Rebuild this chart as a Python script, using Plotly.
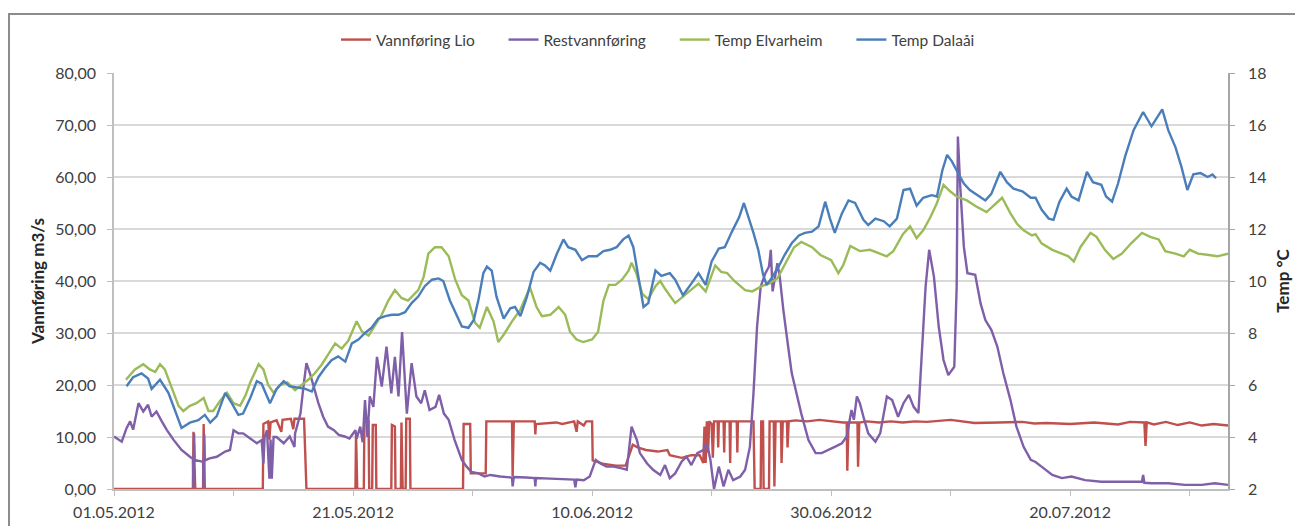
import plotly.graph_objects as go
import pandas as pd

START = pd.Timestamp("2012-05-01")

# ---- data (day offset from 01.05.2012, value) ----
lio_day = [0, 6.6, 6.65, 6.75, 6.8, 7.45, 7.5, 7.6, 12.45, 12.5, 12.9, 13.0, 13.1, 13.6, 14.0, 14.1, 14.8, 15.0, 15.1, 15.9, 16.1,
           20.2, 20.25, 20.35, 20.9, 20.95, 21.3, 21.35, 21.6, 21.65, 21.9, 21.95, 23.2, 23.25, 23.5, 23.55, 24.0, 24.05, 24.15,
           24.4, 24.45, 24.75, 24.8, 29.2, 29.25, 29.8, 29.85, 31.1, 31.15, 33.3, 33.35, 33.45, 35.2, 35.25, 35.3, 37.0, 37.5,
           38.5, 38.7, 38.8, 39.3, 39.5, 40.0, 40.05, 41.0, 42.0, 42.8, 43.4, 43.8, 44.5, 45.5, 46.3, 46.5, 47.5, 48.3, 49.0,
           49.3, 49.4, 49.5, 49.6, 49.7, 49.8, 50.0, 50.1, 50.2, 50.5, 50.55, 50.6, 51.0, 51.05, 51.1, 51.5, 51.55, 51.6, 52.1,
           52.15, 52.2, 52.8, 53.5, 53.6, 54.1, 54.15, 54.3, 54.35, 54.8, 54.85, 55.2, 55.25, 55.35, 55.8, 55.85, 55.95, 56.3,
           56.35, 56.45, 57, 58, 59, 60, 61.0, 61.3, 61.35, 61.45, 62.2, 62.25, 62.35, 63, 64, 65, 66, 67, 68, 70, 72, 74, 76,
           77, 78, 80, 82, 84, 85, 86.2, 86.3, 86.4, 87, 88, 89, 90, 91, 92, 93.2]
lio_val = [0, 0, 11, 0.5, 0, 0, 12.5, 0, 0, 12.5, 13, 9.5, 12.8, 13.2, 11, 13.3, 13.5, 11.5, 13.5, 13.5, 0,
           0, 10.7, 0, 0, 13, 13, 0, 0, 12.3, 12.3, 0, 0, 12.3, 12, 0, 0, 12.8, 0,
           0, 13.5, 13.5, 0, 0, 12.5, 12.5, 3, 3, 13, 13, 2.5, 13, 13, 10.5, 12.5, 12.8, 12.5,
           13, 11, 13, 12.2, 13, 13, 5.5, 4.8, 4.5, 4.5, 8.5, 8, 7.5, 7.2, 7.5, 6.5, 6.0, 6.5, 6.5,
           5, 12, 5, 13, 7, 13, 12.5, 6, 13, 13, 8, 13, 13, 7, 13, 13, 5, 13, 13,
           7, 13, 13, 13, 0, 0, 13, 13, 0, 0, 13, 13, 0.5, 13, 13, 5, 13, 13,
           8, 13, 13.2, 13, 13.3, 13, 12.8, 12.8, 3.5, 12.8, 12.8, 4.3, 12.8, 13, 12.8, 13, 12.8, 13, 12.9, 13.3, 12.7, 12.8, 12.9,
           12.6, 12.7, 12.5, 12.8, 12.4, 12.9, 12.8, 8.3, 12.8, 12.4, 12.9, 12.3, 12.8, 12.2, 12.5, 12.2]

rest_day = [0, 0.3, 0.65, 1.05, 1.35, 1.6, 2.05, 2.45, 2.85, 3.15, 3.55, 4.0, 4.4, 5.0, 5.65, 6.35, 6.6, 6.65, 6.7, 6.75,
            7.45, 7.5, 7.55, 7.6, 8.0, 8.6, 9.3, 9.7, 10.0, 10.4, 10.8, 11.4, 11.95, 12.35, 12.5, 12.6, 12.8, 13.0, 13.1,
            13.2, 13.35, 13.6, 14.2, 14.7, 15.1, 15.15, 15.6, 15.85, 16.1, 16.4, 16.7, 17.1, 17.5, 17.9, 18.4, 18.8, 19.3,
            19.7, 20.2, 20.3, 20.6, 20.8, 21.0, 21.2, 21.4, 21.7, 22.0, 22.4, 22.8, 23.2, 23.5, 23.8, 24.1, 24.5, 24.9, 25.3,
            25.7, 26.0, 26.4, 26.9, 27.2, 27.6, 28.0, 28.5, 29.1, 29.5, 29.9, 30.5, 31.0, 31.5, 32.3, 33.3, 33.35, 33.45,
            34.5, 35.2, 35.25, 35.3, 36.5, 37.5, 38.5, 38.6, 38.7, 39.3, 39.8, 40.3, 40.7, 41.2, 41.8, 42.4, 42.9, 43.3,
            43.75, 44.0, 44.6, 45.1, 45.7, 46.1, 46.5, 46.95, 47.5, 47.9, 48.3, 48.8, 49.3, 49.6, 49.9, 50.2, 50.6, 51.0,
            51.4, 51.8, 52.4, 52.8, 53.2, 53.5, 53.8, 54.1, 54.5, 54.8, 54.95, 55.1, 55.5, 55.7, 56.0, 56.4, 56.7, 57.1,
            57.5, 58.1, 58.7, 59.2, 59.8, 60.3, 60.9, 61.3, 61.7, 61.9, 62.15, 62.4, 62.7, 63.1, 63.7, 64.1, 64.66, 65.1,
            65.6, 66.05, 66.5, 66.9, 67.3, 67.6, 67.9, 68.2, 68.6, 69.0, 69.4, 69.8, 70.3, 70.5, 70.6, 70.8, 71.1, 71.4,
            72.05, 72.5, 72.9, 73.4, 73.9, 74.4, 75.0, 75.5, 76.1, 76.7, 77.1, 77.6, 78.5, 79.3, 80.1, 81.25, 82.6, 84.0,
            86.0, 86.1, 86.2, 86.8, 88.2, 89.6, 91.0, 92.1, 93.2]
rest_val = [10.1, 9.7, 9.1, 11.7, 13, 11.4, 16.5, 14.9, 16.2, 13.9, 14.9, 13, 11.4, 9.4, 7.5, 6.2, 5.8, 0.3, 10.7, 5.6,
            5.2, 0.3, 10.5, 5.5, 5.9, 6.2, 7.2, 7.5, 11.3, 10.7, 10.7, 9.7, 8.8, 9.4, 4.9, 10, 11.3, 2.0, 9.5,
            2.0, 10, 10, 8.8, 10.1, 8.1, 10.7, 14.5, 19.7, 24.2, 22.2, 19.7, 16.5, 13.9, 12, 11.3, 10.4, 10.1,
            9.7, 11.3, 9.7, 12, 9, 17.1, 10, 17.8, 15.8, 25.4, 19.7, 27.4, 18.4, 25.4, 17.8, 30.2, 14.5, 24.2, 17.8,
            16.5, 19, 15.2, 15.8, 18.1, 14.5, 13.3, 9.4, 5.6, 4.3, 3.3, 3.0, 2.4, 2.7, 2.4, 2.2, 0.5, 2.3,
            2.2, 2.1, 0.5, 2.1, 2.0, 1.9, 1.8, 0.3, 1.8, 1.7, 2.4, 5.6, 4.9, 4.3, 4.3, 4.0, 3.7, 12,
            9.4, 6.9, 4.9, 3.7, 2.7, 4.6, 2.1, 3.0, 5.3, 6.2, 4.6, 6.9, 7.5, 8.8, 5.6, 0, 4.3, 0.5,
            3.7, 1.7, 2.4, 3.7, 8.1, 18.4, 31.2, 38.9, 41.5, 42.8, 46, 38, 43.4, 40.8, 34.4, 27.4, 22.3, 18.4,
            14.5, 9.4, 6.9, 6.9, 7.5, 8.1, 8.8, 10.1, 15.2, 13.3, 17.8, 16.5, 13.9, 10.7, 9.1, 10.7, 17.8, 17.1,
            13.9, 16.5, 18.1, 15.8, 14.6, 26.1, 38.9, 46, 40.8, 31.2, 24.8, 21.9, 23.5, 38.9, 67.8, 58.1, 46.6, 41.5,
            41.2, 35.7, 32.5, 30.6, 27.4, 22.3, 17.1, 12, 8.1, 5.6, 5.2, 4.3, 2.7, 2.1, 2.4, 1.7, 1.4, 1.4,
            1.4, 2.7, 1.2, 1.1, 1.1, 0.8, 0.8, 1.1, 0.8]

elv_day = [1.0, 1.75, 2.45, 3.0, 3.45, 3.85, 4.25, 4.85, 5.4, 5.8, 6.35, 6.9, 7.5, 7.9, 8.3, 8.9, 9.45, 10.0, 10.55, 11.0,
           11.4, 12.1, 12.5, 12.9, 13.35, 13.9, 14.5, 15.15, 16.25, 16.8, 17.4, 17.95, 18.5, 19.05, 19.6, 20.3, 20.75,
           21.3, 21.85, 22.4, 22.95, 23.5, 24.05, 24.6, 25.45, 25.9, 26.3, 26.85, 27.4, 28.0, 28.55, 29.1, 29.65, 30.2,
           30.6, 31.2, 31.75, 32.15, 32.7, 33.3, 34.0, 34.8, 35.35, 35.8, 36.5, 37.2, 37.75, 38.15, 38.7, 39.25, 40.0,
           40.5, 40.95, 41.4, 41.95, 42.5, 43.05, 43.3, 43.7, 44.2, 44.7, 45.3, 45.7, 46.1, 46.95, 47.6, 48.3, 48.9, 49.5,
           50.3, 50.8, 51.3, 51.9, 52.8, 53.4, 54.2, 54.8, 55.5, 56.2, 56.9, 57.5, 58.4, 59.1, 60.0, 60.6, 61.0, 61.6,
           62.4, 63.25, 64.1, 64.65, 65.2, 66.0, 66.6, 67.15, 67.7, 68.3, 68.85, 69.4, 69.95, 70.5, 71.35, 72.2, 73.0,
           73.85, 74.3, 75.0, 75.55, 76.1, 76.8, 77.1, 77.6, 78.5, 79.3, 79.85, 80.3, 80.85, 81.7, 82.2, 82.9, 83.6, 84.3,
           85.1, 86.0, 86.7, 87.4, 87.95, 88.8, 89.5, 90.0, 90.7, 91.6, 92.3, 93.2]
elv_val = [6.2, 6.6, 6.8, 6.6, 6.5, 6.8, 6.6, 5.9, 5.2, 5.0, 5.2, 5.3, 5.5, 5.0, 5.0, 5.4, 5.7, 5.3, 5.2, 5.6,
           6.1, 6.8, 6.6, 6.0, 5.7, 6.0, 6.1, 5.8, 6.2, 6.45, 6.8, 7.2, 7.6, 7.4, 7.7, 8.45, 8.05,
           7.9, 8.3, 8.7, 9.25, 9.65, 9.35, 9.25, 9.65, 10.15, 11.05, 11.3, 11.3, 10.95, 10.05, 9.45, 9.25, 8.4,
           8.2, 9.0, 8.45, 7.65, 8.0, 8.45, 8.9, 9.75, 9.0, 8.65, 8.7, 9.0, 8.7, 8.05, 7.75, 7.65, 7.75,
           8.05, 9.25, 9.85, 9.85, 10.05, 10.4, 10.7, 10.3, 9.5, 9.3, 9.8, 10.0, 9.7, 9.15, 9.4, 9.7, 9.9, 9.6,
           10.6, 10.35, 10.3, 10.0, 9.65, 9.6, 9.8, 9.9, 10.1, 10.7, 11.3, 11.5, 11.3, 11.0, 10.8, 10.3, 10.6, 11.35,
           11.15, 11.2, 11.05, 10.95, 11.15, 11.8, 12.1, 11.65, 11.95, 12.45, 13.0, 13.7, 13.45, 13.25, 13.1, 12.85, 12.65,
           13.0, 13.2, 12.6, 12.2, 11.95, 11.75, 11.8, 11.45, 11.2, 11.05, 10.95, 10.75, 11.3, 11.85, 11.7, 11.2, 10.85, 11.05,
           11.45, 11.85, 11.7, 11.6, 11.15, 11.05, 10.95, 11.2, 11.05, 11.0, 10.95, 11.05]

dal_day = [1.05, 1.6, 2.3, 2.85, 3.15, 3.85, 4.55, 5.1, 5.65, 6.35, 7.05, 7.6, 8.05, 8.6, 9.3, 9.85, 10.4, 10.8, 11.4, 11.95,
           12.35, 13.05, 13.6, 14.2, 14.7, 15.4, 16.0, 16.55, 17.1, 17.65, 18.2, 18.75, 19.35, 19.9, 20.45, 21.0, 21.55,
           22.1, 22.7, 23.25, 23.8, 24.35, 24.9, 25.45, 26.0, 26.6, 27.15, 27.55, 28.1, 28.7, 29.1, 29.65, 30.1, 30.5,
           30.9, 31.2, 31.6, 32.0, 32.6, 33.15, 33.55, 34.0, 34.55, 35.1, 35.65, 36.05, 36.5, 37.05, 37.6, 38.0, 38.6,
           39.15, 39.7, 40.4, 40.95, 41.5, 42.05, 42.6, 43.05, 43.45, 43.9, 44.3, 44.7, 45.3, 45.8, 46.5, 46.95, 47.6,
           48.3, 48.9, 49.5, 50.0, 50.6, 51.1, 51.7, 52.3, 52.7, 53.1, 53.5, 53.9, 54.3, 54.6, 55.0, 55.6, 56.1, 56.7,
           57.3, 57.8, 58.4, 58.95, 59.5, 59.9, 60.3, 60.9, 61.45, 62.0, 62.7, 63.1, 63.7, 64.4, 64.9, 65.5, 66.05, 66.6,
           67.15, 67.7, 68.4, 68.85, 69.3, 69.7, 70.1, 70.5, 71.1, 71.6, 72.3, 72.9, 73.4, 74.15, 74.7, 75.25, 76.0, 76.7,
           77.1, 77.6, 78.2, 78.6, 79.1, 79.7, 80.1, 80.7, 81.4, 81.9, 82.6, 83.0, 83.5, 84.0, 84.6, 85.3, 86.1, 86.8,
           87.7, 88.2, 88.8, 89.3, 89.8, 90.3, 90.9, 91.5, 91.9, 92.2]
dal_val = [5.95, 6.3, 6.45, 6.25, 5.85, 6.2, 5.7, 5.0, 4.35, 4.55, 4.65, 4.85, 4.55, 4.8, 5.7, 5.3, 4.85, 4.9, 5.5, 6.15,
           6.05, 5.3, 5.85, 6.15, 5.95, 5.9, 5.85, 5.75, 6.3, 6.65, 6.95, 7.1, 6.9, 7.6, 7.75, 8.0, 8.2,
           8.55, 8.65, 8.7, 8.7, 8.8, 9.15, 9.4, 9.8, 10.05, 10.1, 10.0, 9.25, 8.65, 8.25, 8.2, 8.5, 9.3,
           10.3, 10.55, 10.4, 9.4, 8.55, 8.95, 9.0, 8.65, 9.4, 10.35, 10.7, 10.6, 10.4, 11.05, 11.6, 11.3, 11.2,
           10.8, 10.95, 10.95, 11.15, 11.2, 11.3, 11.6, 11.75, 11.3, 10.0, 9.0, 9.15, 10.4, 10.2, 10.3, 10.05, 9.45,
           9.9, 10.3, 9.85, 10.75, 11.25, 11.3, 11.9, 12.45, 13.0, 12.45, 11.85, 11.2, 10.25, 9.85, 10.1, 10.55, 11.0, 11.45,
           11.75, 11.85, 11.9, 12.1, 13.05, 12.4, 11.85, 12.6, 13.1, 13.0, 12.35, 12.15, 12.4, 12.3, 12.1, 12.4, 13.5, 13.55,
           12.9, 13.2, 13.3, 13.25, 14.25, 14.85, 14.6, 14.25, 13.75, 13.5, 13.3, 13.1, 13.35, 14.2, 13.8, 13.55, 13.45, 13.2,
           13.2, 12.75, 12.4, 12.35, 13.05, 13.55, 13.25, 13.1, 14.2, 13.8, 13.7, 13.25, 13.05, 13.75, 14.8, 15.8, 16.5, 15.95,
           16.6, 15.8, 15.15, 14.4, 13.5, 14.1, 14.15, 14.0, 14.1, 13.95]

x_tick_dates = ["2012-05-01", "2012-05-21", "2012-06-10", "2012-06-30", "2012-07-20"]
x_tick_text = ["01.05.2012", "21.05.2012", "10.06.2012", "30.06.2012", "20.07.2012"]
left_ticks = [0, 10, 20, 30, 40, 50, 60, 70, 80]
left_tick_text = ["0,00", "10,00", "20,00", "30,00", "40,00", "50,00", "60,00", "70,00", "80,00"]
right_ticks = [2, 4, 6, 8, 10, 12, 14, 16, 18]


def to_dates(days):
    return [START + pd.Timedelta(days=d) for d in days]


FONT = "Lato"
TXT = "#404040"
# the page body adds an 8px offset; the figure fills the rest of the 1303x526 window
OFF = 8
W, H = 1303 - OFF, 526 - OFF
PL, PR, PT, PB = 114, 1228, 73, 489  # plot area in window pixels
PW, PH = PR - PL, PB - PT
PAD = "\u00a0" * 6  # extra spacing between legend entries

fig = go.Figure()
fig.add_trace(go.Scatter(x=to_dates(lio_day), y=lio_val, name="Vannføring Lio" + PAD, mode="lines",
                         line=dict(color="#C0504D", width=2.4)))
fig.add_trace(go.Scatter(x=to_dates(rest_day), y=rest_val, name="Restvannføring" + PAD, mode="lines",
                         line=dict(color="#7F5FA8", width=2.4)))
fig.add_trace(go.Scatter(x=to_dates(elv_day), y=elv_val, name="Temp Elvarheim" + PAD, mode="lines", yaxis="y2",
                         line=dict(color="#9BBB59", width=2.4)))
fig.add_trace(go.Scatter(x=to_dates(dal_day), y=dal_val, name="Temp Dalaåi", mode="lines", yaxis="y2",
                         line=dict(color="#4A7EBB", width=2.4)))

x_end = START + pd.Timedelta(days=93.2)

fig.update_layout(
    width=W, height=H,
    margin=dict(l=PL - OFF, r=1303 - PR, t=PT - OFF, b=526 - PB, autoexpand=False),
    paper_bgcolor="white", plot_bgcolor="white",
    font=dict(family=FONT, size=16, color=TXT),
    showlegend=True,
    legend=dict(orientation="h", x=(658 - PL) / PW, xanchor="center", y=(PB - 40) / PH, yanchor="middle",
                font=dict(size=15.5, color=TXT), itemwidth=30, tracegroupgap=0),
    xaxis=dict(type="date", range=[START, x_end], tickmode="array",
               tickvals=x_tick_dates, ticktext=x_tick_text,
               ticks="outside", ticklen=5, tickcolor="#bfbfbf",
               showline=True, linecolor="#bfbfbf", linewidth=1.5, showgrid=False, zeroline=False,
               minor=dict(dtick=864000000, tick0="2012-05-01", ticks="outside", ticklen=5,
                          tickcolor="#bfbfbf", showgrid=False),
               tickfont=dict(size=16, color=TXT), ticklabelstandoff=3),
    yaxis=dict(range=[0, 80], tickmode="array", tickvals=left_ticks, ticktext=left_tick_text,
               showgrid=True, gridcolor="#d9d9d9", gridwidth=1.5, zeroline=False,
               showline=True, linecolor="#bfbfbf", linewidth=1.5,
               ticks="outside", ticklen=5, tickcolor="#bfbfbf",
               tickfont=dict(size=16, color=TXT), ticklabelstandoff=8,
               title=dict(text="<b>Vannføring m3/s</b>", font=dict(size=17, color="#262626"), standoff=6)),
    yaxis2=dict(range=[2, 18], tickmode="array", tickvals=right_ticks, overlaying="y", side="right",
                showgrid=False, zeroline=False, showline=True, linecolor="#a6a6a6", linewidth=1.5,
                ticks="outside", ticklen=5, tickcolor="#a6a6a6",
                tickfont=dict(size=16, color=TXT), ticklabelstandoff=10,
                title=dict(text="<b>Temp °C</b>", font=dict(size=17, color="#262626"), standoff=12)),
    shapes=[dict(type="rect", xref="paper", yref="paper",
                 x0=(9 - PL) / PW, x1=(1330 - PL) / PW,
                 y0=(PB - 560) / PH, y1=(PB - 14) / PH,
                 line=dict(color="#8c8c8c", width=2), layer="below")],
)

fig.write_html("out.html")
